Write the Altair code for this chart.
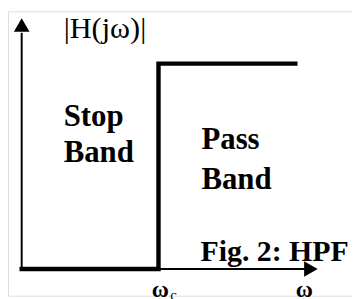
import altair as alt
import pandas as pd

# High-pass filter ideal magnitude response (omega in units of omega_c)
omega = [0.0, 1.0, 1.0, 2.0]
mag = [0.0, 0.0, 1.0, 1.0]
order = [0, 1, 2, 3]

resp = pd.DataFrame({"w": omega, "h": mag, "o": order})

xs = alt.Scale(domain=[-0.1, 2.4143], range=[0, 352], nice=False, zero=False)
ys = alt.Scale(domain=[-0.1299, 1.2545], range=[291, 0], nice=False, zero=False)

SERIF = "Liberation Serif"

base = alt.Chart(resp)

line = base.mark_line(color="black", strokeWidth=4.5, strokeJoin="miter", strokeCap="square").encode(
    x=alt.X("w:Q", scale=xs, axis=None),
    y=alt.Y("h:Q", scale=ys, axis=None),
    order="o:Q",
)

yaxis = alt.Chart(pd.DataFrame({"w": [0.0], "h": [0.0], "h2": [1.15]})).mark_rule(
    color="black", strokeWidth=2
).encode(x=alt.X("w:Q", scale=xs), y=alt.Y("h:Q", scale=ys), y2="h2:Q")

xaxis = alt.Chart(pd.DataFrame({"w": [0.0], "w2": [2.07], "h": [0.0]})).mark_rule(
    color="black", strokeWidth=2
).encode(x=alt.X("w:Q", scale=xs), x2="w2:Q", y=alt.Y("h:Q", scale=ys))

yarrow = alt.Chart(pd.DataFrame({"w": [0.0], "h": [1.188]})).mark_point(
    shape="triangle-up", size=256, filled=True, color="black", opacity=1
).encode(x=alt.X("w:Q", scale=xs), y=alt.Y("h:Q", scale=ys))

xarrow = alt.Chart(pd.DataFrame({"w": [2.114], "h": [0.0]})).mark_point(
    shape="triangle-right", size=256, filled=True, color="black", opacity=1
).encode(x=alt.X("w:Q", scale=xs), y=alt.Y("h:Q", scale=ys))


def label(text, w, h, size, weight="normal", align="left"):
    return alt.Chart(pd.DataFrame({"w": [w], "h": [h]})).mark_text(
        text=text, font=SERIF, fontSize=size, fontWeight=weight, color="black",
        align=align, baseline="alphabetic"
    ).encode(x=alt.X("w:Q", scale=xs), y=alt.Y("h:Q", scale=ys))

labels = [
    label("|H(jω)|", 0.307, 1.126, 31),
    label("Stop", 0.307, 0.698, 31.5, "bold"),
    label("Band", 0.307, 0.522, 31.5, "bold"),
    label("Pass", 1.314, 0.584, 31.5, "bold"),
    label("Band", 1.314, 0.389, 31.5, "bold"),
    label("Fig. 2: HPF", 1.307, 0.041, 30.5, "bold"),
    label("ω", 1.014, -0.134, 24, "bold", "center"),
    label("c", 1.11, -0.150, 15, "normal", "center"),
    label("ω", 2.066, -0.134, 24, "bold", "center"),
]

chart = alt.layer(line, yaxis, xaxis, yarrow, xarrow, *labels).properties(
    width=352, height=291, padding=0, autosize=alt.AutoSizeParams(type="none")
).configure_view(stroke=None).configure(background="white")

chart.save("out.html", embed_options={"renderer": "svg", "actions": False})
